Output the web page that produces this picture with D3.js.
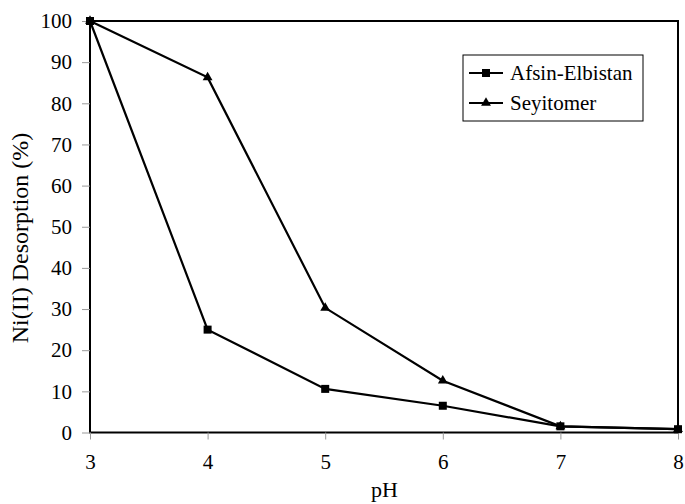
<!DOCTYPE html>
<html>
<head>
<meta charset="utf-8">
<script src="https://cdn.jsdelivr.net/npm/d3@7"></script>
<style>
  html, body { margin: 0; padding: 0; background: #fff; }
  #chart, #chart text { font-family: "Times New Roman", "Liberation Serif", Times, serif !important; }
</style>
</head>
<body>
<svg id="chart" width="685" height="504"></svg>
<script>
// pH values and Ni(II) desorption (%) for the two coal samples
const phValues = [3, 4, 5, 6, 7, 8];
const afsinElbistan = [100, 25, 10.6, 6.5, 1.5, 0.8];
const seyitomer = [100, 86.3, 30.3, 12.6, 1.5, 0.8];
const xTicks = [3, 4, 5, 6, 7, 8];
const yTicks = [0, 10, 20, 30, 40, 50, 60, 70, 80, 90, 100];

const series = [
  { name: "Afsin-Elbistan", values: afsinElbistan, marker: "square" },
  { name: "Seyitomer", values: seyitomer, marker: "triangle" }
];

const FS = 21;

const svg = d3.select("#chart");
const margin = { left: 90, right: 7, top: 21, bottom: 71.5 };
const W = 685, H = 504;
const x = d3.scaleLinear().domain([3, 8]).range([margin.left, W - margin.right]);
const y = d3.scaleLinear().domain([0, 100]).range([H - margin.bottom, margin.top]);

// Plot frame
svg.append("rect")
  .attr("x", x(3)).attr("y", y(100))
  .attr("width", x(8) - x(3)).attr("height", y(0) - y(100))
  .attr("fill", "none").attr("stroke", "#000").attr("stroke-width", 2);

// Y axis
const yAxis = svg.append("g")
  .attr("transform", `translate(${x(3)},0)`)
  .call(d3.axisLeft(y).tickValues(yTicks).tickFormat(d3.format("d")).tickSize(8).tickPadding(10));
yAxis.attr("font-size", FS);
yAxis.select(".domain").remove();
yAxis.selectAll(".tick line").attr("stroke", "#999");
yAxis.selectAll(".tick text").attr("fill", "#000");

// X axis
const xAxis = svg.append("g")
  .attr("transform", `translate(0,${y(0)})`)
  .call(d3.axisBottom(x).tickValues(xTicks).tickFormat(d3.format("d")).tickSize(7).tickPadding(15));
xAxis.attr("font-size", FS);
xAxis.select(".domain").remove();
xAxis.selectAll(".tick line").attr("stroke", "#999");
xAxis.selectAll(".tick text").attr("fill", "#000");

// Axis titles
svg.append("text")
  .attr("x", (x(3) + x(8)) / 2 + 0.5).attr("y", 497)
  .attr("text-anchor", "middle").attr("font-size", 22).text("pH");
svg.append("text")
  .attr("transform", `translate(28,238) rotate(-90)`)
  .attr("text-anchor", "middle").attr("font-size", 24).text("Ni(II) Desorption (%)");

// Lines and markers
const line = d3.line().x((d, i) => x(phValues[i])).y(d => y(d));
const triangle = d3.symbol().type(d3.symbolTriangle).size(42);

function drawMarker(g, type, cx, cy) {
  if (type === "square") {
    g.append("rect").attr("x", cx - 4).attr("y", cy - 4)
      .attr("width", 8).attr("height", 8).attr("fill", "#000");
  } else {
    g.append("path").attr("d", triangle())
      .attr("transform", `translate(${cx},${cy})`).attr("fill", "#000");
  }
}

series.forEach(s => {
  const g = svg.append("g");
  g.append("path").attr("d", line(s.values))
    .attr("fill", "none").attr("stroke", "#000").attr("stroke-width", 2.2);
  s.values.forEach((v, i) => drawMarker(g, s.marker, x(phValues[i]), y(v)));
});

// Legend
const legend = svg.append("g");
legend.append("rect")
  .attr("x", 463).attr("y", 55).attr("width", 180).attr("height", 66)
  .attr("fill", "#fff").attr("stroke", "#000").attr("stroke-width", 1);
series.forEach((s, i) => {
  const ly = 73 + i * 30;
  legend.append("line").attr("x1", 469).attr("x2", 503).attr("y1", ly).attr("y2", ly)
    .attr("stroke", "#000").attr("stroke-width", 2);
  drawMarker(legend, s.marker, 486, ly);
  legend.append("text").attr("x", 510).attr("y", ly + 7)
    .attr("font-size", FS).text(s.name);
});
</script>
</body>
</html>
